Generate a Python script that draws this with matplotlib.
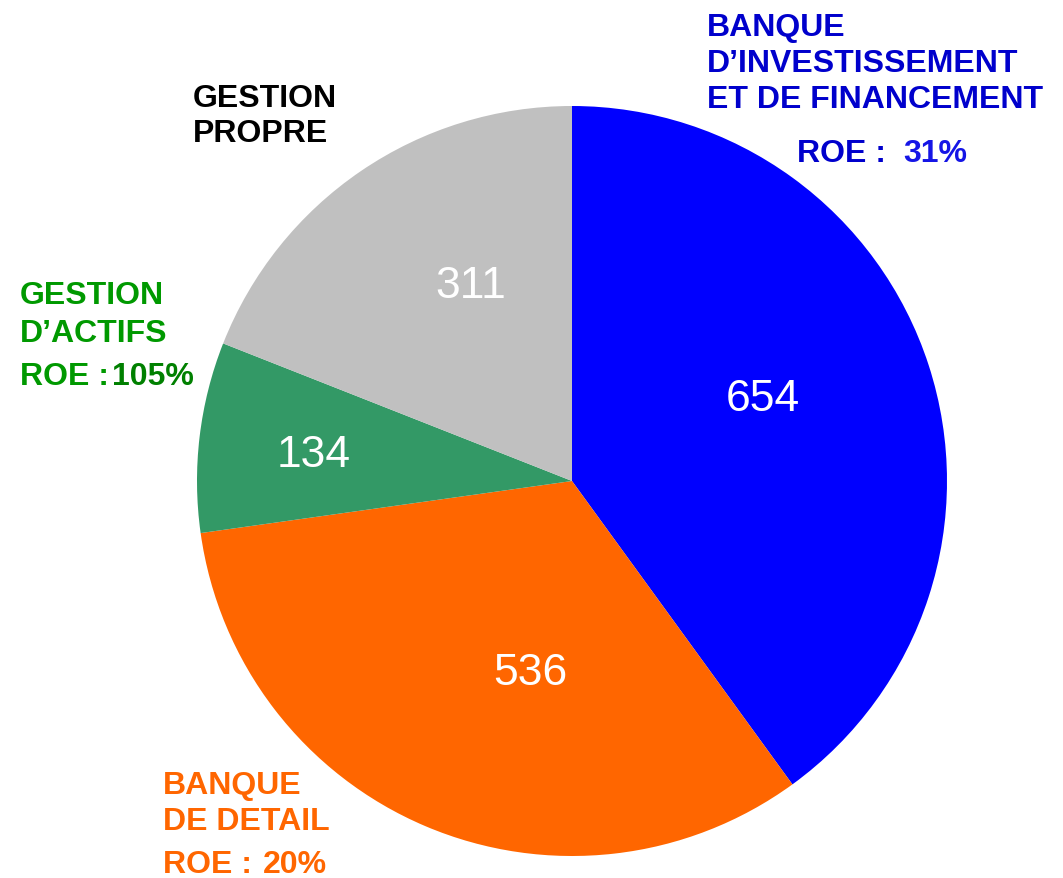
import matplotlib.pyplot as plt

plt.rcParams['font.family'] = ['Liberation Sans', 'DejaVu Sans']

W, H = 1063, 879

segments = ['BFI', 'BDD', 'GA', 'GP']
values = [654, 536, 134, 311]
colors = ['#0000FF', '#FF6600', '#339966', '#C0C0C0']

# where the value sits inside each wedge (pie units)
value_pos = [(0.51, 0.22), (-0.11, -0.51), (-0.69, 0.07), (-0.27, 0.52)]


def px(x, y):
    return x / W, 1 - y / H


fig = plt.figure(figsize=(W / 100, H / 100), dpi=100)
cx, cy, r = 572, 482, 375
ax = fig.add_axes([(cx - r) / W, (H - cy - r) / H, 2 * r / W, 2 * r / H])
ax.pie(values, colors=colors, startangle=90, counterclock=False,
       radius=1, wedgeprops=dict(linewidth=0))
ax.set_xlim(-1, 1)
ax.set_ylim(-1, 1)
ax.axis('off')

for v, (x, y) in zip(values, value_pos):
    ax.text(x, y, str(v), color='white', fontsize=32, ha='center', va='center')

# category labels
fs = 23
fig.text(*px(707, 13), "BANQUE\nD\u2019INVESTISSEMENT\nET DE FINANCEMENT",
         color='#0000CC', fontsize=fs, fontweight='bold', va='top', ha='left',
         linespacing=1.25)
fig.text(*px(797, 162), "ROE :", color='#0000CC', fontsize=fs,
         fontweight='bold', va='baseline', ha='left')
fig.text(*px(903, 162), "31%", color='#1515E6', fontsize=fs,
         fontweight='bold', va='baseline', ha='left')

fig.text(*px(193, 84), "GESTION\nPROPRE", color='black', fontsize=fs,
         fontweight='bold', va='top', ha='left', linespacing=1.22)

fig.text(*px(20, 281), "GESTION\nD\u2019ACTIFS", color='#009900', fontsize=fs,
         fontweight='bold', va='top', ha='left', linespacing=1.36)
fig.text(*px(20, 385), "ROE :", color='#009900', fontsize=fs,
         fontweight='bold', va='baseline', ha='left')
fig.text(*px(112, 385), "105%", color='#008000', fontsize=fs,
         fontweight='bold', va='baseline', ha='left')

fig.text(*px(163, 771), "BANQUE\nDE DETAIL", color='#FF6600', fontsize=fs,
         fontweight='bold', va='top', ha='left', linespacing=1.26)
fig.text(*px(163, 873), "ROE :", color='#FF6600', fontsize=fs,
         fontweight='bold', va='baseline', ha='left')
fig.text(*px(263, 873), "20%", color='#FF6600', fontsize=fs,
         fontweight='bold', va='baseline', ha='left')

fig.savefig('out.png', dpi=100, facecolor='white')
